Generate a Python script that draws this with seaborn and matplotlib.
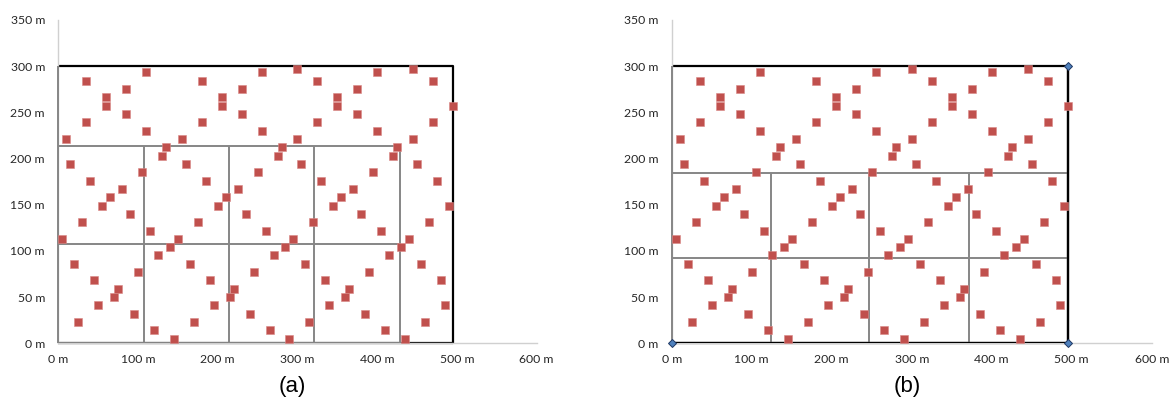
import numpy as np
import pandas as pd
import matplotlib
matplotlib.use("Agg")
import matplotlib.pyplot as plt
import seaborn as sns

# ---- data (metres) ----
pts_x = [5, 20, 30, 25, 45, 50, 55, 65, 70, 75, 90, 95, 100, 115, 120, 125, 140, 145, 150, 165,
         170, 175, 190, 195, 200, 210, 215, 220, 235, 240, 245, 260, 265, 270, 285, 290, 295, 310,
         315, 320, 335, 340, 345, 355, 360, 365, 380, 385, 390, 405, 410, 415, 430, 435, 440, 455,
         460, 465, 480, 485, 490,
         10, 15, 35, 35, 40, 60, 60, 80, 85, 85, 105, 110, 110, 130, 135,
         155, 160, 180, 180, 185, 205, 205, 225, 230, 230, 250, 255, 255, 275, 280,
         300, 300, 305, 325, 325, 330, 350, 350, 370, 375, 375, 395, 400, 400, 420, 425,
         445, 445, 450, 470, 470, 475, 495]
pts_y = [113, 86, 131, 23, 68, 41, 149, 158, 50, 59, 140, 32, 77, 122, 14, 95, 104, 5, 113, 86,
         23, 131, 68, 41, 149, 158, 50, 59, 140, 32, 77, 122, 14, 95, 104, 5, 113, 86,
         23, 131, 68, 41, 149, 158, 50, 59, 140, 32, 77, 122, 14, 95, 104, 5, 113, 86,
         23, 131, 68, 41, 149,
         221, 194, 284, 239, 176, 266, 257, 167, 275, 248, 185, 293, 230, 203, 212,
         221, 194, 284, 239, 176, 266, 257, 167, 275, 248, 185, 293, 230, 203, 212,
         297, 221, 194, 284, 239, 176, 266, 257, 167, 275, 248, 185, 293, 230, 203, 212,
         297, 221, 194, 284, 239, 176, 257]

area_w = 495
area_h = 300

a_cols = [0, 107, 214, 321, 428]
a_rows = [0, 107, 214]
b_cols = [0, 124, 247, 371, 495]
b_rows = [92, 184]

x_ticks = [0, 100, 200, 300, 400, 500, 600]
y_ticks = [0, 50, 100, 150, 200, 250, 300, 350]
captions = ["(a)", "(b)"]

df = pd.DataFrame({"x": pts_x, "y": pts_y})

sns.set_style("white")
plt.rcParams['font.family'] = ['Lato', 'DejaVu Sans']

fig = plt.figure(figsize=(11.72, 4.01), dpi=100)
ax_a = fig.add_axes([0.0497, 0.1439, 0.4082, 0.8067])
ax_b = fig.add_axes([0.5731, 0.1439, 0.4096, 0.8067])

RED = "#C0504D"
GRID = "#868686"

for ax, cap in zip([ax_a, ax_b], captions):
    ax.set_xlim(0, 600)
    ax.set_ylim(0, 350)
    ax.set_xticks(x_ticks)
    ax.set_yticks(y_ticks)
    ax.set_xticklabels([f"{v} m" for v in x_ticks])
    ax.set_yticklabels([f"{v} m" for v in y_ticks])
    for s in ["top", "right"]:
        ax.spines[s].set_visible(False)
    for s in ["left", "bottom"]:
        ax.spines[s].set_color("#d0d0d0")
        ax.spines[s].set_linewidth(1.0)
    ax.tick_params(axis="both", which="both", direction="out", length=3.6, width=0.8,
                   color="#d0d0d0", labelsize=8.8, labelcolor="#262626")
    ax.tick_params(axis="y", pad=6)
    ax.tick_params(axis="x", pad=4)
    ax.set_xlabel("")
    ax.set_ylabel("")
    ax.grid(False)
    # outer boundary: top, right, bottom black
    ax.plot([0, area_w, area_w, 0], [area_h, area_h, 0, 0], color="black", lw=1.6,
            zorder=2, clip_on=False, solid_capstyle="butt")
    # left edge grey
    ax.vlines(0, 0, area_h, color=GRID, lw=1.4, zorder=3, clip_on=False)
    ax.text(0.49, -0.133, cap, transform=ax.transAxes, ha="center", va="center",
            fontsize=16, family=["Liberation Sans", "DejaVu Sans"], color="black")

# panel (a) partition
ax_a.vlines(a_cols, a_rows[0], a_rows[-1], color=GRID, lw=1.4, zorder=3)
ax_a.hlines(a_rows, a_cols[0], a_cols[-1], color=GRID, lw=1.4, zorder=3)

# panel (b) partition
ax_b.vlines(b_cols[1:-1], 0, b_rows[-1], color=GRID, lw=1.4, zorder=3)
ax_b.hlines(b_rows, b_cols[0], b_cols[-1], color=GRID, lw=1.4, zorder=3)
ax_b.vlines(b_cols[-1], 0, area_h, color="black", lw=1.6, zorder=3)
ax_b.hlines(0, 0, area_w, color="black", lw=1.6, zorder=3)
ax_b.plot([0, area_w, area_w], [0, 0, area_h], linestyle="none", marker="D", markersize=3.6,
          markerfacecolor="#4F81BD", markeredgecolor="#1F3864", markeredgewidth=0.7,
          zorder=6, clip_on=False)

for ax in [ax_a, ax_b]:
    sns.scatterplot(data=df, x="x", y="y", ax=ax, marker="s", s=26, color=RED,
                    edgecolor="#d98886", linewidth=0.4, zorder=5, legend=False, clip_on=False)
    ax.set_xlabel("")
    ax.set_ylabel("")

fig.savefig("out.png", dpi=100)
